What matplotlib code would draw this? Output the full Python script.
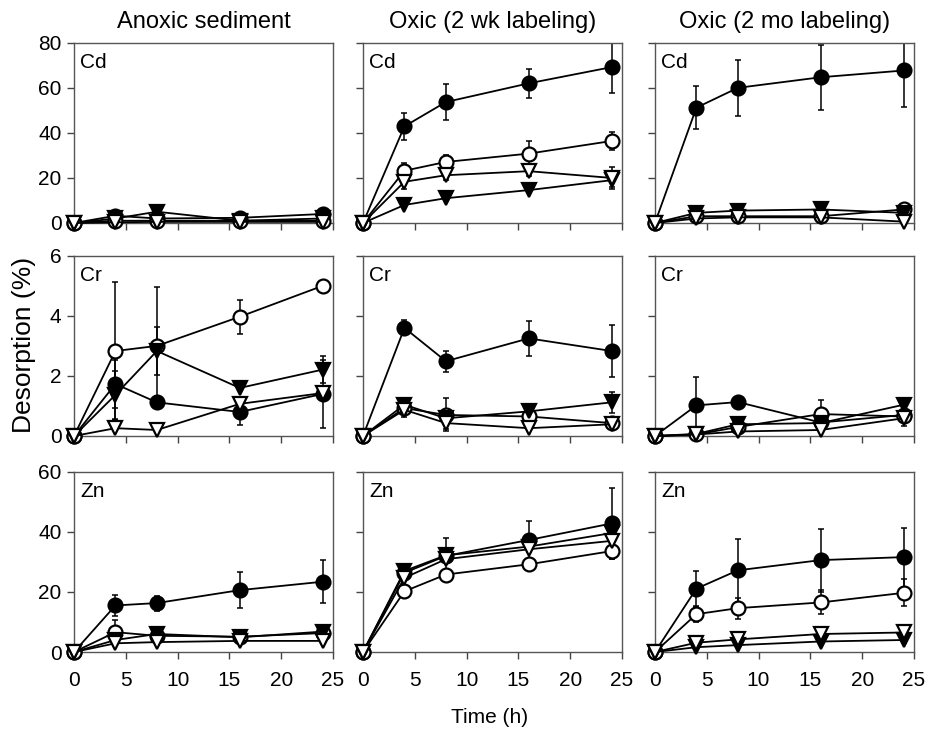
import matplotlib
matplotlib.use("Agg")
import matplotlib.pyplot as plt

# sampling times (h)
hours = [0, 4, 8, 16, 24]

# each panel: [filled circle, open circle, filled triangle, open triangle]
cd_anoxic = [[0, 3.2, 2.0, 2.3, 4.0], [0, 1.0, 1.0, 1.0, 1.0],
             [0, 2.0, 5.0, 1.0, 2.0], [0, 0.3, 0.5, 0.5, 0.5]]
cd_anoxic_err = [[0, 1.0, 1.0, 0.5, 1.0], [0, 0, 0, 0, 0],
                 [0, 0, 2.0, 0, 0], [0, 0, 0, 0, 0]]
cd_2wk = [[0, 42.9, 53.7, 62.0, 69.2], [0, 23.2, 27.1, 30.8, 36.4],
          [0, 8.0, 11.0, 14.6, 19.0], [0, 18.3, 21.2, 23.0, 20.0]]
cd_2wk_err = [[0, 6.0, 8.0, 6.5, 11.5], [0, 3.5, 3.0, 5.5, 4.0],
              [0, 0.5, 0.5, 0.5, 3.0], [0, 3.4, 2.0, 2.0, 5.0]]
cd_2mo = [[0, 51.2, 60.0, 64.7, 67.7], [0, 3.0, 3.0, 3.0, 6.0],
          [0, 4.5, 5.5, 6.0, 4.5], [0, 2.0, 2.5, 2.5, 0.6]]
cd_2mo_err = [[0, 9.6, 12.5, 14.4, 16.2], [0, 0.5, 0.5, 0.5, 0.5],
              [0, 1.5, 2.0, 3.0, 1.0], [0, 0, 0, 0, 0]]

cr_anoxic = [[0, 1.73, 1.12, 0.8, 1.4], [0, 2.83, 3.0, 3.97, 5.0],
             [0, 1.37, 2.83, 1.6, 2.21], [0, 0.26, 0.2, 1.07, 1.43]]
cr_anoxic_err = [[0, 0.8, 0.2, 0.43, 1.13], [0, 2.3, 1.95, 0.56, 0.1],
                 [0, 0.8, 0.8, 0.05, 0.45], [0, 0, 0, 0.1, 0.2]]
cr_2wk = [[0, 3.6, 2.49, 3.25, 2.83], [0, 0.93, 0.7, 0.65, 0.43],
          [0, 1.04, 0.59, 0.82, 1.12], [0, 0.87, 0.43, 0.26, 0.39]]
cr_2wk_err = [[0, 0.25, 0.35, 0.58, 0.87], [0, 0.3, 0.55, 0.2, 0.05],
              [0, 0.2, 0.1, 0.15, 0.35], [0, 0.1, 0.2, 0.05, 0.05]]
cr_2mo = [[0, 1.02, 1.13, 0.45, 0.7], [0, 0.05, 0.3, 0.73, 0.65],
          [0, 0.07, 0.39, 0.43, 1.04], [0, 0.05, 0.15, 0.2, 0.59]]
cr_2mo_err = [[0, 0.93, 0.15, 0.1, 0.1], [0, 0, 0.05, 0.47, 0.1],
              [0, 0.05, 0.05, 0.1, 0.1], [0, 0, 0.05, 0.05, 0.25]]

zn_anoxic = [[0, 15.5, 16.3, 20.6, 23.4], [0, 6.6, 5.4, 5.1, 6.3],
             [0, 4.0, 6.0, 4.9, 6.8], [0, 2.9, 3.3, 3.7, 3.7]]
zn_anoxic_err = [[0, 3.4, 2.5, 6.1, 7.1], [0, 4.0, 1.0, 0.5, 1.0],
                 [0, 1.0, 1.0, 0.5, 1.5], [0, 0, 0, 0, 0]]
zn_2wk = [[0, 26.4, 32.0, 37.3, 42.8], [0, 20.2, 25.8, 29.2, 33.6],
          [0, 27.0, 32.2, 35.1, 39.6], [0, 24.7, 30.9, 34.2, 37.0]]
zn_2wk_err = [[0, 2.8, 5.9, 6.4, 11.7], [0, 1.0, 1.0, 1.0, 2.5],
              [0, 1.0, 1.5, 1.5, 1.5], [0, 1.0, 1.0, 1.0, 1.5]]
zn_2mo = [[0, 21.1, 27.2, 30.6, 31.6], [0, 12.6, 14.6, 16.5, 19.7],
          [0, 1.6, 2.3, 3.5, 4.0], [0, 3.1, 4.2, 6.0, 6.5]]
zn_2mo_err = [[0, 5.8, 10.4, 10.5, 9.8], [0, 2.5, 3.5, 4.0, 4.5],
              [0, 0.5, 0.5, 0.5, 1.0], [0, 1.0, 1.0, 1.5, 2.0]]

col_titles = ['Anoxic sediment', 'Oxic (2 wk labeling)', 'Oxic (2 mo labeling)']
metals = ['Cd', 'Cr', 'Zn']
y_max = [80, 6, 60]
y_ticks = [[0, 20, 40, 60, 80], [0, 2, 4, 6], [0, 20, 40, 60]]
x_ticks = [0, 5, 10, 15, 20, 25]

panels = [[(cd_anoxic, cd_anoxic_err), (cd_2wk, cd_2wk_err), (cd_2mo, cd_2mo_err)],
          [(cr_anoxic, cr_anoxic_err), (cr_2wk, cr_2wk_err), (cr_2mo, cr_2mo_err)],
          [(zn_anoxic, zn_anoxic_err), (zn_2wk, zn_2wk_err), (zn_2mo, zn_2mo_err)]]

# marker, face colour for the four series
styles = [('o', 'black'), ('o', 'white'), ('v', 'black'), ('v', 'white')]

plt.rcParams['font.family'] = ['Liberation Sans', 'DejaVu Sans']
plt.rcParams['font.size'] = 15

fig = plt.figure(figsize=(9.26, 7.34), dpi=100)

col_left = [0.0799, 0.392, 0.7073]
row_bottom = [0.6962, 0.406, 0.1117]
ax_w, ax_h = 0.2797, 0.2455

for r in range(3):
    for c in range(3):
        ax = fig.add_axes([col_left[c], row_bottom[r], ax_w, ax_h])
        vals, errs = panels[r][c]
        for k in range(4):
            mk, fc = styles[k]
            ax.errorbar(hours, vals[k], yerr=errs[k], fmt='none', ecolor='black',
                        elinewidth=1.1, capsize=2.5, capthick=1.1, zorder=2)
            ax.plot(hours, vals[k], marker=mk, color='black', mfc=fc, mec='black',
                    ms=10, mew=1.6, lw=1.3, clip_on=False, zorder=3 + k * 0.1)
        ax.set_xlim(0, 25)
        ax.set_ylim(0, y_max[r])
        ax.set_xticks(x_ticks)
        ax.set_yticks(y_ticks[r])
        ax.tick_params(direction='out', length=5, width=1, color='#444444', pad=4)
        ax.tick_params(axis='x', pad=9)
        if r < 2:
            ax.set_xticklabels([])
        if c > 0:
            ax.set_yticklabels([])
        for s in ax.spines.values():
            s.set_color('#555555')
            s.set_linewidth(1.0)
        ax.text(0.025, 0.945, metals[r], transform=ax.transAxes, ha='left', va='top')
        if r == 0:
            ax.set_title(col_titles[c], fontsize=17, pad=11)

fig.text(0.026, 0.53, 'Desorption (%)', rotation=90, ha='center', va='center', fontsize=19)
fig.text(0.529, 0.022, 'Time (h)', ha='center', va='center')

fig.savefig('out.png', dpi=100)
